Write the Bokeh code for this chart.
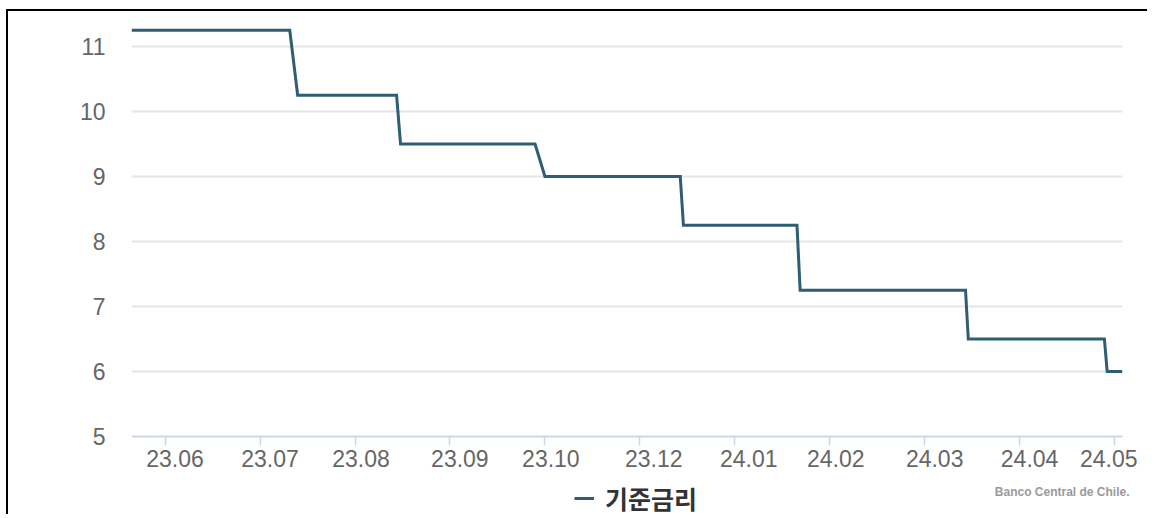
from bokeh.plotting import figure
from bokeh.models import Range1d, FixedTicker, Legend, LegendItem, Label
from bokeh.embed import file_html
from bokeh.resources import INLINE

# Step series: observation index (business-day categories) and policy rate (%)
obs_index = [0, 40, 42, 67, 68, 102, 104.5, 138.7, 139.5, 168.2, 169, 210.8, 211.5, 245.9, 246.6, 250.4]
rate = [11.25, 11.25, 10.25, 10.25, 9.5, 9.5, 9.0, 9.0, 8.25, 8.25, 7.25, 7.25, 6.5, 6.5, 6.0, 6.0]

# Category axis: labelled categories and tick marks between categories
label_index = [11, 35, 58, 83, 106, 132, 156, 178, 203, 227, 247]
tick_labels = ["23.06", "23.07", "23.08", "23.09", "23.10", "23.12",
               "24.01", "24.02", "24.03", "24.04", "24.05"]
tick_marks = [8.5, 32.5, 56.5, 80.5, 104.5, 128.5, 152.5, 176.5, 200.5, 224.5, 248.5]
x_first, x_last = 0, 250.4   # first and last category of the axis

y_ticks = [5, 6, 7, 8, 9, 10, 11]
y_axis_min = 5
series_name = "기준금리"
source_text = "Banco Central de Chile."

LINE = "#2f5e74"
FONT = "Liberation Sans"

p = figure(width=1141, height=505, output_backend="svg", toolbar_location=None,
           x_range=Range1d(0, 257.3), y_range=Range1d(3.7685, 11.43),
           min_border_left=123, min_border_right=0, min_border_top=7, min_border_bottom=0)
p.styles = {"border-top": "2px solid black", "border-left": "2px solid black",
            "margin-left": "6px", "margin-top": "9px"}
p.outline_line_color = None
p.background_fill_color = "white"
p.border_fill_color = "white"

# horizontal grid lines spanning the category range only
grid_y = [v for v in y_ticks if v != y_axis_min]
p.segment(x0=[x_first] * len(grid_y), x1=[x_last] * len(grid_y), y0=grid_y, y1=grid_y,
          line_color="#e6e6e6", line_width=2)
p.ygrid.grid_line_color = None
p.xgrid.grid_line_color = None

r = p.line(obs_index, rate, line_color=LINE, line_width=3, line_join="miter")

# x axis (drawn at y = 5 inside the frame)
xa = p.xaxis[0]
xa.fixed_location = y_axis_min
xa.bounds = (x_first, x_last)
xa.ticker = FixedTicker(ticks=label_index, minor_ticks=tick_marks)
xa.major_label_overrides = {i: t for i, t in zip(label_index, tick_labels)}
xa.major_tick_line_color = None
xa.major_tick_in = 0
xa.major_tick_out = 0
xa.minor_tick_line_color = "#ccd6eb"
xa.minor_tick_line_width = 1.5
xa.minor_tick_in = 0
xa.minor_tick_out = 9
xa.axis_line_color = "#ccd6eb"
xa.axis_line_width = 2
xa.major_label_standoff = 5
xa.major_label_text_font = FONT
xa.major_label_text_font_size = "23px"
xa.major_label_text_color = "#666666"

# y axis
ya = p.yaxis[0]
ya.ticker = FixedTicker(ticks=y_ticks)
ya.axis_line_color = None
ya.major_tick_line_color = None
ya.minor_tick_line_color = None
ya.major_tick_in = 0
ya.major_tick_out = 0
ya.major_label_standoff = 26
ya.major_label_text_font = FONT
ya.major_label_text_font_size = "23px"
ya.major_label_text_color = "#666666"

legend = Legend(items=[LegendItem(label=series_name, renderers=[r])],
                location=(443, 0), orientation="horizontal",
                padding=0, margin=0, border_line_color=None,
                background_fill_alpha=0, glyph_width=20, glyph_height=24,
                label_standoff=11,
                label_text_font="Noto Sans CJK KR", label_text_font_style="bold",
                label_text_font_size="25px", label_text_color="#333333")
p.add_layout(legend)

src = Label(x=998, y=25, x_units="screen", y_units="screen", text=source_text,
            text_align="right", text_baseline="middle",
            text_font=FONT, text_font_style="bold", text_font_size="12px",
            text_color="#999999")
p.add_layout(src)

open("out.html", "w").write(file_html(p, INLINE))
